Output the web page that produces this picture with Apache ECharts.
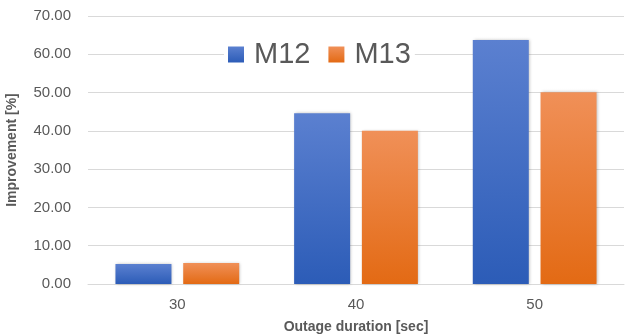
<!DOCTYPE html>
<html><head><meta charset="utf-8">
<script src="https://cdn.jsdelivr.net/npm/echarts@6/dist/echarts.min.js"></script>
<style>html,body{margin:0;padding:0;background:#fff}#c{width:625px;height:336px}</style>
</head><body><div id="c"></div>
<script>
const categories = ['30', '40', '50'];
const m12 = [5.2, 44.6, 63.7];
const m13 = [5.5, 40.0, 50.1];
const seriesNames = ['M12', 'M13'];

const font = 'Liberation Sans';
function grad(top, bottom) {
  return new echarts.graphic.LinearGradient(0, 0, 0, 1, [
    {offset: 0, color: top}, {offset: 1, color: bottom}
  ]);
}
const chart = echarts.init(document.getElementById('c'));
chart.setOption({
  animation: false,
  backgroundColor: '#fff',
  textStyle: {fontFamily: font},
  grid: {left: 88, right: 1, top: 16, bottom: 52, outerBoundsMode: 'none', containLabel: false},
  legend: {
    data: seriesNames,
    top: 38, left: 224,
    itemWidth: 16, itemHeight: 16, itemGap: 18,
    backgroundColor: '#fff',
    padding: [2, 4],
    textStyle: {fontSize: 29, color: '#595959', fontFamily: font, padding: [0, 0, 0, 5]},
    icon: 'rect'
  },
  xAxis: {
    type: 'category', data: categories,
    axisLine: {lineStyle: {color: '#d9d9d9', width: 1}},
    axisTick: {show: false},
    axisLabel: {fontSize: 15, color: '#595959', margin: 13},
    name: 'Outage duration [sec]', nameLocation: 'middle', nameGap: 36,
    nameTextStyle: {fontSize: 14, fontWeight: 'bold', color: '#595959'}
  },
  yAxis: {
    type: 'value', min: 0, max: 70, interval: 10,
    axisLine: {show: false}, axisTick: {show: false},
    splitLine: {lineStyle: {color: '#d9d9d9'}},
    axisLabel: {fontSize: 15, color: '#595959', margin: 17, formatter: v => v.toFixed(2)},
    name: 'Improvement [%]', nameLocation: 'middle', nameGap: 69,
    nameTextStyle: {fontSize: 14, fontWeight: 'bold', color: '#595959'}
  },
  series: [
    {name: seriesNames[0], type: 'bar', data: m12, barWidth: 56, barGap: '21%',
     itemStyle: {color: grad('#5b80d0', '#2c5cb7'), shadowColor: 'rgba(0,0,0,0.25)', shadowBlur: 3, shadowOffsetX: 1}},
    {name: seriesNames[1], type: 'bar', data: m13, barWidth: 56,
     itemStyle: {color: grad('#f09058', '#e36a14'), shadowColor: 'rgba(0,0,0,0.25)', shadowBlur: 3, shadowOffsetX: 1}}
  ]
});
</script></body></html>
